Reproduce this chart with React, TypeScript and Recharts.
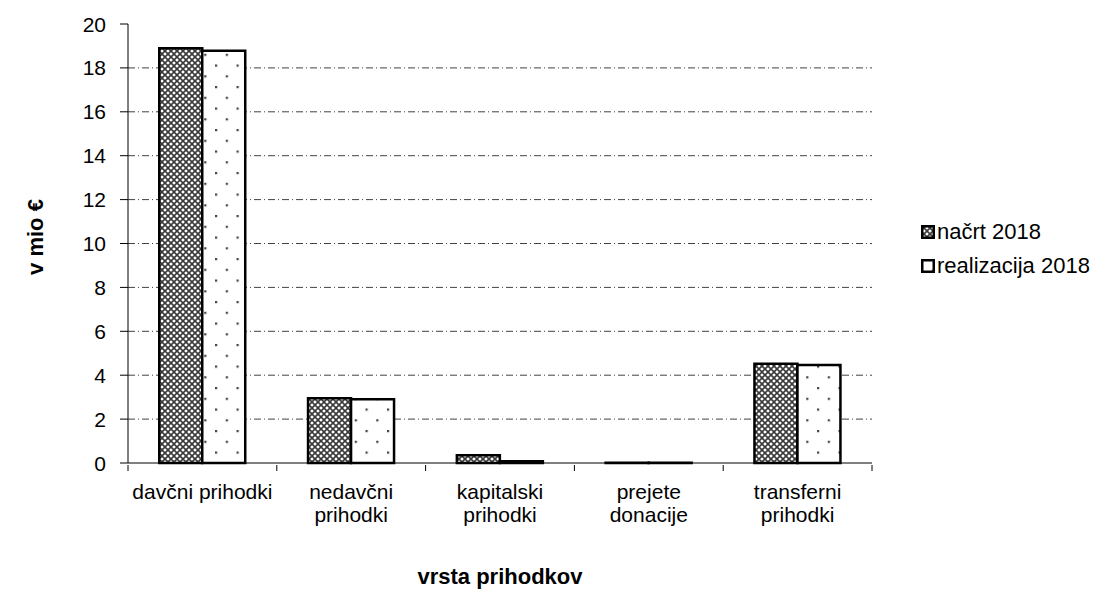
import React from 'react'
import { BarChart, Bar, XAxis, YAxis, CartesianGrid } from 'recharts'

// values (mio €)
const categories = ['davčni prihodki', 'nedavčni\nprihodki', 'kapitalski\nprihodki', 'prejete\ndonacije', 'transferni\nprihodki']
const nacrt2018 = [18.9, 2.95, 0.35, 0.01, 4.52]
const realizacija2018 = [18.78, 2.9, 0.08, 0.01, 4.47]
const seriesNames = ['načrt 2018', 'realizacija 2018']
const yTicks = [0, 2, 4, 6, 8, 10, 12, 14, 16, 18, 20]
const gridValues = [2, 4, 6, 8, 10, 12, 14, 16, 18]

const data = categories.map((name, i) => ({
  name,
  nacrt: nacrt2018[i],
  realizacija: realizacija2018[i],
}))

const FONT = '"Liberation Sans", Arial, sans-serif'

const Patterns = () => (
  <defs>
    <pattern id="hatch" width="6" height="6" patternUnits="userSpaceOnUse">
      <rect width="6" height="6" fill="#ffffff" />
      <path d="M0,0 L6,6 M6,0 L0,6" stroke="#3a3a3a" strokeWidth="1.6" />
      <path d="M-1,5 L1,7 M5,-1 L7,1 M-1,1 L1,-1 M5,7 L7,5" stroke="#3a3a3a" strokeWidth="1.6" />
    </pattern>
    <pattern id="dots" width="21.5" height="21.5" patternUnits="userSpaceOnUse">
      <rect width="21.5" height="21.5" fill="#ffffff" />
      <rect x="0" y="0" width="2.2" height="2.2" fill="#444" />
      <rect x="10.75" y="10.75" width="2.2" height="2.2" fill="#444" />
    </pattern>
  </defs>
)

const CategoryTick = (props: any) => {
  const { x, y, payload, index, width, visibleTicksCount } = props
  const band = width / visibleTicksCount
  const lines = String(payload.value).split('\n')
  return (
    <g>
      {index === 0 && <line x1={x - band / 2} y1={y} x2={x - band / 2} y2={y + 6} stroke="#000" />}
      <line x1={x + band / 2} y1={y} x2={x + band / 2} y2={y + 6} stroke="#000" />
      {lines.map((l, i) => (
        <text key={i} x={x} y={y + 34 + i * 22.5} textAnchor="middle" fontSize={21} fontFamily={FONT} fill="#000">
          {l}
        </text>
      ))}
    </g>
  )
}

const ValueTick = (props: any) => {
  const { x, y, payload } = props
  return (
    <text x={x} y={y} dy="0.36em" textAnchor="end" fontSize={21} fontFamily={FONT} fill="#000">
      {payload.value}
    </text>
  )
}

export default function App() {
  return (
    <div style={{ position: 'absolute', left: 0, top: 0, width: 1096, height: 592, background: '#fff', fontFamily: FONT }}>
      <BarChart
        width={1096}
        height={592}
        data={data}
        margin={{ top: 24, right: 224, left: 0, bottom: 49 }}
        barCategoryGap="21%"
        barGap={0}
      >
        <Patterns />
        <CartesianGrid
          vertical={false}
          horizontalValues={gridValues}
          stroke="#111"
          strokeWidth={0.8}
          strokeDasharray="7 3 1 3"
        />
        <XAxis
          dataKey="name"
          height={80}
          axisLine={{ stroke: '#000' }}
          tickLine={false}
          tickSize={0}
          interval={0}
          tick={<CategoryTick />}
        />
        <YAxis
          width={128}
          domain={[0, 20]}
          ticks={yTicks}
          interval={0}
          axisLine={{ stroke: '#000' }}
          tickLine={{ stroke: '#000' }}
          tickSize={8}
          tickMargin={14}
          tick={<ValueTick />}
        />
        <Bar dataKey="nacrt" name={seriesNames[0]} fill="url(#hatch)" stroke="#000" strokeWidth={2.5} isAnimationActive={false} />
        <Bar dataKey="realizacija" name={seriesNames[1]} fill="url(#dots)" stroke="#000" strokeWidth={2.5} isAnimationActive={false} />
      </BarChart>

      <div
        style={{
          position: 'absolute', left: 36, top: 237, transform: 'translate(-50%, -50%) rotate(-90deg)',
          fontWeight: 'bold', fontSize: 22, whiteSpace: 'nowrap',
        }}
      >
        v mio €
      </div>
      <div
        style={{
          position: 'absolute', left: 500, top: 577, transform: 'translate(-50%, -50%)',
          fontWeight: 'bold', fontSize: 22, whiteSpace: 'nowrap',
        }}
      >
        vrsta prihodkov
      </div>

      <div style={{ position: 'absolute', left: 921, top: 215 }}>
        {seriesNames.map((s, i) => (
          <div key={s} style={{ display: 'flex', alignItems: 'center', height: 34, fontSize: 22 }}>
            <svg width={14} height={14} style={{ marginRight: 2 }}>
              <Patterns />
              <rect x={1.25} y={1.25} width={11.5} height={11.5} fill={i === 0 ? 'url(#hatch)' : 'url(#dots)'} stroke="#000" strokeWidth={2.5} />
            </svg>
            <span>{s}</span>
          </div>
        ))}
      </div>
    </div>
  )
}
